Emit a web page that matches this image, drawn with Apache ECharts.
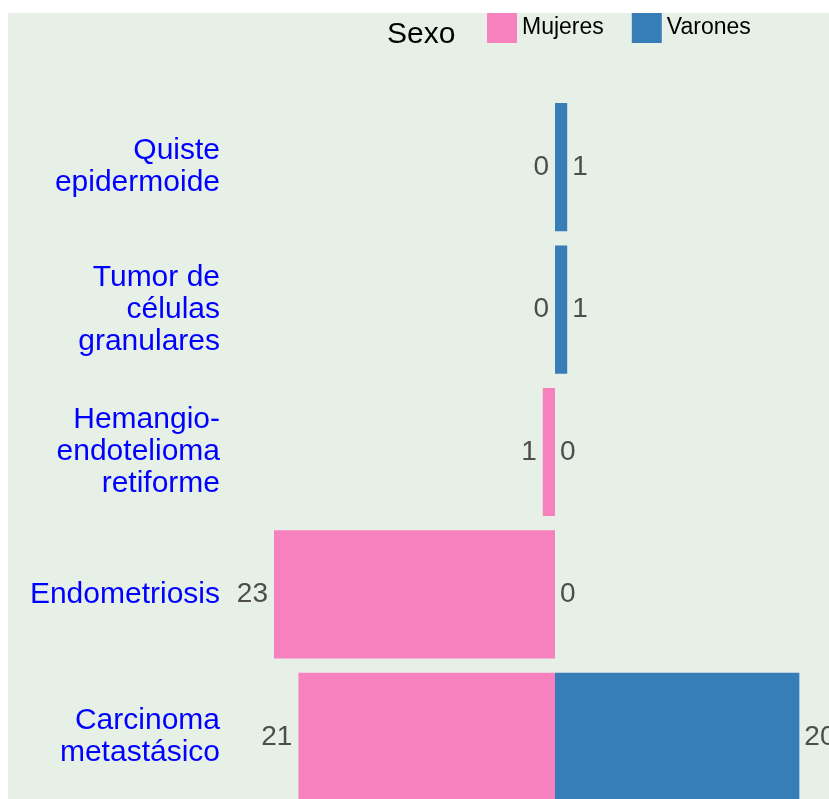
<!DOCTYPE html>
<html lang="es" style="height: 100%">
<head>
  <meta charset="utf-8">
</head>
<body style="height: 100%; margin: 0; background: #ffffff">
  <div id="container" style="width: 829px; height: 799px"></div>

  <script type="text/javascript" src="https://cdn.jsdelivr.net/npm/echarts@6/dist/echarts.min.js"></script>

  <script type="text/javascript">
    // categorias (de arriba abajo)
    var categories = [
      'Quiste\nepidermoide',
      'Tumor de\ncélulas\ngranulares',
      'Hemangio-\nendotelioma\nretiforme',
      'Endometriosis',
      'Carcinoma\nmetastásico'
    ];
    var mujeres = [0, 0, 1, 23, 21];
    var varones = [1, 1, 0, 0, 20];

    var dom = document.getElementById('container');
    var myChart = echarts.init(dom, null, { renderer: 'canvas' });

    var font = 'Liberation Sans, Arial, sans-serif';

    var option = {
      animation: false,
      backgroundColor: '#ffffff',
      textStyle: { fontFamily: font },
      graphic: [
        {
          type: 'rect',
          z: -10,
          silent: true,
          shape: { x: 8, y: 13, width: 821, height: 786 },
          style: { fill: '#e7f0e7' }
        },
        {
          type: 'text',
          left: 387,
          top: 20,
          style: { text: 'Sexo', fontSize: 30, fill: '#000000', fontFamily: font }
        }
      ],
      legend: {
        left: 487,
        top: 13,
        padding: 0,
        icon: 'rect',
        itemWidth: 30,
        itemHeight: 30,
        itemGap: 28,
        textStyle: { fontSize: 23, color: '#000000', fontFamily: font },
        data: ['Mujeres', 'Varones']
      },
      grid: { left: 274, top: 96, width: 562, height: 712, outerBoundsMode: 'none', containLabel: false },
      xAxis: {
        type: 'value',
        min: -23,
        max: 23,
        show: false
      },
      yAxis: {
        type: 'category',
        inverse: true,
        data: categories,
        axisLine: { show: false },
        axisTick: { show: false },
        splitLine: { show: false },
        axisLabel: {
          margin: 54,
          fontSize: 30,
          lineHeight: 32,
          color: '#0000ff',
          fontFamily: font
        }
      },
      series: [
        {
          name: 'Mujeres',
          type: 'bar',
          barCategoryGap: '10%',
          barGap: '-100%',
          itemStyle: { color: '#f781bf' },
          label: {
            show: true,
            position: 'left',
            distance: 6,
            fontSize: 28,
            color: '#4d4d4d',
            fontFamily: font,
            formatter: function (p) { return Math.abs(p.value); }
          },
          data: mujeres.map(function (v) { return -v; })
        },
        {
          name: 'Varones',
          type: 'bar',
          barCategoryGap: '10%',
          barGap: '-100%',
          itemStyle: { color: '#377eb8' },
          label: {
            show: true,
            position: 'right',
            distance: 5,
            fontSize: 28,
            color: '#4d4d4d',
            fontFamily: font
          },
          data: varones
        }
      ]
    };

    myChart.setOption(option);
    window.addEventListener('resize', myChart.resize);
  </script>
</body>
</html>
